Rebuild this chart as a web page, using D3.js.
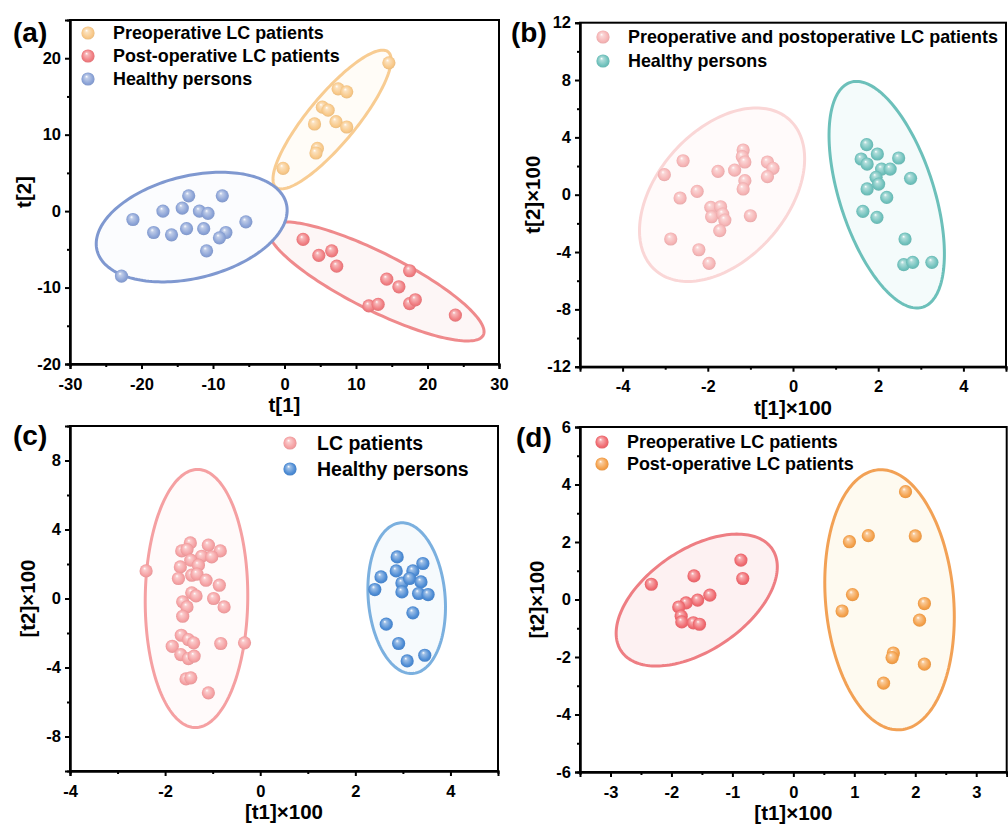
<!DOCTYPE html>
<html>
<head>
<meta charset="utf-8">
<script src="https://cdn.jsdelivr.net/npm/d3@7"></script>
<style>
	body { margin: 0; background: #fff; }
	svg { display: block; font-family: "Liberation Sans", Arial, sans-serif; }
	.tick text { font-weight: bold; }
</style>
</head>
<body>
<div id="chart"></div>
<script>
// ---- data ----
// (a)
const aPreop = [[14.6,19.4],[7.5,16.0],[8.7,15.6],[5.3,13.6],[6.1,13.2],[4.2,11.4],[7.2,11.7],[8.7,11.0],[4.6,8.2],[4.4,7.6],[-0.2,5.6]];
const aPostop = [[2.6,-3.7],[4.8,-5.8],[6.6,-5.2],[7.3,-7.2],[17.5,-7.8],[14.3,-8.9],[16.0,-9.9],[11.8,-12.4],[13.1,-12.2],[17.5,-12.1],[18.3,-11.6],[23.9,-13.6]];
const aHealthy = [[-13.4,2.0],[-8.7,2.0],[-21.2,-1.1],[-17.0,0.0],[-14.3,0.4],[-11.9,0.0],[-10.7,-0.3],[-18.3,-2.8],[-15.8,-3.1],[-13.7,-2.3],[-11.3,-2.3],[-8.2,-2.8],[-9.1,-3.5],[-10.9,-5.2],[-5.4,-1.4],[-22.8,-8.5]];
// ellipse = [cx, cy, ux, uy, vx, vy] (centre and two half-axis vectors, data units)
const aPreopEllipse = [6.65, 11.98, 7.84, 8.85, 2.6, -2.0];
const aPostopEllipse = [12.83, -9.2, 14.97, -7.03, -1.82, -3.35];
const aHealthyEllipse = [-12.98, -2.09, 13.24, 3.05, 1.72, -6.49];

// (b)
const bPatients = [[-3.02,1.40],[-2.58,2.37],[-2.65,-0.23],[-2.25,0.23],[-1.76,1.63],[-1.37,1.72],[-1.17,3.12],[-1.19,2.65],[-1.13,2.28],[-1.13,0.98],[-1.17,0.40],[-0.60,2.28],[-0.47,1.84],[-0.60,1.26],[-1.93,-0.88],[-1.70,-0.84],[-1.91,-1.54],[-1.65,-1.35],[-1.60,-1.77],[-1.72,-2.51],[-1.00,-1.47],[-2.87,-3.09],[-2.21,-3.84],[-1.97,-4.79]];
const bHealthy = [[1.73,3.49],[1.60,2.49],[1.74,2.14],[1.98,2.84],[2.48,2.56],[2.08,1.79],[2.28,1.79],[1.95,1.21],[2.76,1.14],[2.01,0.74],[1.74,0.40],[2.20,-0.19],[1.64,-1.16],[1.97,-1.58],[2.63,-3.09],[2.60,-4.88],[2.81,-4.72],[3.26,-4.72]];
const bPatientsEllipse = [-1.665, 0.0, 1.574, 5.25, 1.131, -3.01];
const bHealthyEllipse = [2.2, 0.0, 0.85, -7.84, -1.054, -1.01];

// (c)
const cPatients = [[-2.40,1.60],[-1.47,3.22],[-1.65,2.76],[-1.54,2.84],[-1.09,3.09],[-0.84,2.76],[-1.23,2.45],[-1.02,2.41],[-1.46,2.22],[-1.68,1.83],[-1.30,1.93],[-1.72,1.16],[-1.44,1.35],[-1.33,1.41],[-1.14,1.06],[-0.86,0.77],[-1.44,0.33],[-1.35,0.15],[-0.98,0.0],[-0.76,-0.49],[-1.63,-0.19],[-1.54,-0.49],[-1.63,-1.03],[-1.66,-2.13],[-1.51,-2.38],[-1.40,-2.57],[-1.85,-2.77],[-0.83,-2.61],[-0.33,-2.57],[-1.67,-3.25],[-1.51,-3.48],[-1.39,-3.34],[-1.56,-4.66],[-1.46,-4.60],[-1.09,-5.47]];
const cHealthy = [[2.88,2.41],[3.42,2.03],[2.54,1.25],[2.86,1.60],[3.21,1.60],[2.98,0.90],[3.14,1.16],[3.38,0.96],[2.41,0.52],[2.98,0.38],[3.33,0.29],[3.53,0.23],[3.21,-0.83],[2.65,-1.49],[2.91,-2.61],[3.46,-3.29],[3.09,-3.62]];
const cPatientsEllipse = [-1.34, 0.0, 0.024, 7.48, 1.078, 0];
const cHealthyEllipse = [3.08, 0.02, -0.097, 4.37, 0.81, 0];

// (d)
const dPreop = [[-2.33,0.53],[-1.63,0.82],[-0.86,1.37],[-0.83,0.73],[-1.37,0.15],[-1.57,-0.02],[-1.76,-0.12],[-1.88,-0.26],[-1.84,-0.58],[-1.83,-0.78],[-1.64,-0.81],[-1.54,-0.86]];
const dPostop = [[1.84,3.75],[1.23,2.22],[0.92,2.01],[2.00,2.21],[0.97,0.17],[2.15,-0.14],[0.80,-0.40],[2.07,-0.72],[1.64,-1.86],[1.62,-2.02],[2.15,-2.25],[1.48,-2.91]];
const dPreopEllipse = [-1.585, -0.02, 1.24, 1.77, 0.458, -1.46];
const dPostopEllipse = [1.578, -0.01, 0.186, -4.52, -1.046, -0.196];

// ticks
const aXTicks = [-30, -20, -10, 0, 10, 20, 30], aXMinor = [-25, -15, -5, 5, 15, 25];
const aYTicks = [-20, -10, 0, 10, 20], aYMinor = [-15, -5, 5, 15];
const bXTicks = [-4, -2, 0, 2, 4], bXMinor = [-3, -1, 1, 3];
const bYTicks = [-12, -8, -4, 0, 4, 8, 12], bYMinor = [-10, -6, -2, 2, 6, 10];
const cXTicks = [-4, -2, 0, 2, 4], cXMinor = [-3, -1, 1, 3];
const cYTicks = [-8, -4, 0, 4, 8], cYMinor = [-6, -2, 2, 6];
const dXTicks = [-3, -2, -1, 0, 1, 2, 3], dXMinor = [-2.5, -1.5, -0.5, 0.5, 1.5, 2.5];
const dYTicks = [-6, -4, -2, 0, 2, 4, 6], dYMinor = [-5, -3, -1, 1, 3, 5];

const W = 1008, H = 830;

const svg = d3.select("#chart")
	.append("svg")
	.attr("width", W)
	.attr("height", H);

const defs = svg.append("defs");
let gradId = 0;

// sphere-looking marker fill
function sphere(color) {
	const id = "g" + (gradId++);
	const g = defs.append("radialGradient")
		.attr("id", id)
		.attr("cx", "50%").attr("cy", "50%").attr("r", "55%")
		.attr("fx", "38%").attr("fy", "30%");
	g.append("stop").attr("offset", "0%").attr("stop-color", "#ffffff");
	g.append("stop").attr("offset", "22%").attr("stop-color", d3.interpolateRgb(color, "#fff")(0.45));
	g.append("stop").attr("offset", "75%").attr("stop-color", color);
	g.append("stop").attr("offset", "100%").attr("stop-color", d3.color(color).darker(0.25));
	return "url(#" + id + ")";
}

function drawPanel(p) {
	const x = d3.scaleLinear().domain(p.xDomain).range([p.left, p.right]);
	const y = d3.scaleLinear().domain(p.yDomain).range([p.bottom, p.top]);
	const g = svg.append("g");

	// ellipses
	const line = d3.line().curve(d3.curveLinearClosed);
	p.series.forEach(s => {
		const e = s.ellipse;
		const pts = d3.range(0, 2 * Math.PI, Math.PI / 90).map(t => [
			x(e[0] + e[2] * Math.cos(t) + e[4] * Math.sin(t)),
			y(e[1] + e[3] * Math.cos(t) + e[5] * Math.sin(t))
		]);
		g.append("path")
			.attr("d", line(pts))
			.attr("fill", s.ellipseFill)
			.attr("stroke", s.ellipseStroke)
			.attr("stroke-width", 3);
	});

	// points
	p.series.forEach(s => {
		const fill = sphere(s.color);
		g.append("g")
			.selectAll("circle")
			.data(s.data)
			.enter()
			.append("circle")
			.attr("cx", d => x(d[0]))
			.attr("cy", d => y(d[1]))
			.attr("r", 6.6)
			.attr("fill", fill);
		s.legendFill = fill;
	});

	// frame
	g.append("rect")
		.attr("x", p.left).attr("y", p.top)
		.attr("width", p.right - p.left).attr("height", p.bottom - p.top)
		.attr("fill", "none").attr("stroke", "#000").attr("stroke-width", 2);

	// axes
	const fmt = d => String(d);
	const xAx = g.append("g")
		.attr("transform", `translate(0, ${p.bottom})`)
		.call(d3.axisBottom(x).tickValues(p.xTicks).tickFormat(fmt).tickSize(5).tickPadding(9));
	const xMin = g.append("g")
		.attr("transform", `translate(0, ${p.bottom})`)
		.call(d3.axisBottom(x).tickValues(p.xMinor).tickFormat("").tickSize(3));
	const yAx = g.append("g")
		.attr("transform", `translate(${p.left}, 0)`)
		.call(d3.axisLeft(y).tickValues(p.yTicks).tickFormat(fmt).tickSize(5).tickPadding(4));
	const yMin = g.append("g")
		.attr("transform", `translate(${p.left}, 0)`)
		.call(d3.axisLeft(y).tickValues(p.yMinor).tickFormat("").tickSize(3));
	[xAx, xMin, yAx, yMin].forEach(a => {
		a.select(".domain").attr("stroke-width", 2);
		a.selectAll(".tick line").attr("stroke-width", 2);
		a.selectAll(".tick text").attr("font-size", 16.5).attr("fill", "#000");
	});

	// axis titles
	g.append("text")
		.text(p.xTitle)
		.attr("x", (p.left + p.right) / 2)
		.attr("y", p.bottom + 48)
		.attr("text-anchor", "middle")
		.attr("font-size", 20.5)
		.attr("font-weight", "bold");

	g.append("text")
		.text(p.yTitle)
		.attr("transform", `translate(${p.left - p.yTitleGap}, ${(p.top + p.bottom) / 2}) rotate(-90)`)
		.attr("text-anchor", "middle")
		.attr("dy", "0.35em")
		.attr("font-size", 20.5)
		.attr("font-weight", "bold");

	// panel tag
	g.append("text")
		.text(p.tag)
		.attr("x", p.tagX)
		.attr("y", p.tagY)
		.attr("font-size", 28)
		.attr("font-weight", "bold");

	// legend
	p.series.forEach((s, i) => {
		const ly = p.legend.y + i * p.legend.step;
		g.append("circle")
			.attr("cx", p.legend.x)
			.attr("cy", ly)
			.attr("r", 6.6)
			.attr("fill", s.legendFill);
		g.append("text")
			.text(s.name)
			.attr("x", p.legend.x + p.legend.gap)
			.attr("y", ly)
			.attr("dy", "0.36em")
			.attr("font-size", p.legend.size)
			.attr("font-weight", "bold");
	});
}

drawPanel({
	tag: "(a)", tagX: 13, tagY: 42,
	left: 70, right: 499, top: 20, bottom: 364,
	xDomain: [-30, 30], yDomain: [-20, 25],
	xTicks: aXTicks, xMinor: aXMinor, yTicks: aYTicks, yMinor: aYMinor,
	xTitle: "t[1]", yTitle: "t[2]", yTitleGap: 46,
	legend: { x: 88, y: 33, step: 23, gap: 25, size: 17.9 },
	series: [
		{ name: "Preoperative LC patients", data: aPreop, ellipse: aPreopEllipse, color: "#F8C888", ellipseStroke: "#F8CC92", ellipseFill: "#fffcf7" },
		{ name: "Post-operative LC patients", data: aPostop, ellipse: aPostopEllipse, color: "#F07C80", ellipseStroke: "#EF8A8C", ellipseFill: "#fdf6f6" },
		{ name: "Healthy persons", data: aHealthy, ellipse: aHealthyEllipse, color: "#8AA2D6", ellipseStroke: "#7F98D0", ellipseFill: "#fbfcfe" }
	]
});

drawPanel({
	tag: "(b)", tagX: 511, tagY: 42,
	left: 580, right: 1006, top: 22.7, bottom: 366.7,
	xDomain: [-5, 5], yDomain: [-12, 12],
	xTicks: bXTicks, xMinor: bXMinor, yTicks: bYTicks, yMinor: bYMinor,
	xTitle: "t[1]×100", yTitle: "t[2]×100", yTitleGap: 47,
	legend: { x: 603, y: 37, step: 24, gap: 25, size: 17.9 },
	series: [
		{ name: "Preoperative and postoperative LC patients", data: bPatients, ellipse: bPatientsEllipse, color: "#F6B4B5", ellipseStroke: "#FAD6D6", ellipseFill: "#fffafa" },
		{ name: "Healthy persons", data: bHealthy, ellipse: bHealthyEllipse, color: "#6FC1BC", ellipseStroke: "#6CC0BA", ellipseFill: "#f4fbfb" }
	]
});

drawPanel({
	tag: "(c)", tagX: 13, tagY: 445,
	left: 70, right: 498, top: 426, bottom: 771,
	xDomain: [-4, 5], yDomain: [-10, 10],
	xTicks: cXTicks, xMinor: cXMinor, yTicks: cYTicks, yMinor: cYMinor,
	xTitle: "[t1]×100", yTitle: "[t2]×100", yTitleGap: 42,
	legend: { x: 290, y: 443, step: 26, gap: 27, size: 19.5 },
	series: [
		{ name: "LC patients", data: cPatients, ellipse: cPatientsEllipse, color: "#F5A0A2", ellipseStroke: "#F5A0A2", ellipseFill: "#fffafa" },
		{ name: "Healthy persons", data: cHealthy, ellipse: cHealthyEllipse, color: "#4C8BD4", ellipseStroke: "#7BB0DF", ellipseFill: "#f6fafd" }
	]
});

drawPanel({
	tag: "(d)", tagX: 516, tagY: 447,
	left: 580, right: 1006.7, top: 427, bottom: 772,
	xDomain: [-3.5, 3.5], yDomain: [-6, 6],
	xTicks: dXTicks, xMinor: dXMinor, yTicks: dYTicks, yMinor: dYMinor,
	xTitle: "[t1]×100", yTitle: "[t2]×100", yTitleGap: 43,
	legend: { x: 602, y: 442, step: 22, gap: 25, size: 17.9 },
	series: [
		{ name: "Preoperative LC patients", data: dPreop, ellipse: dPreopEllipse, color: "#F06A70", ellipseStroke: "#EE7E83", ellipseFill: "#fdf1f2" },
		{ name: "Post-operative LC patients", data: dPostop, ellipse: dPostopEllipse, color: "#F4A04A", ellipseStroke: "#F2A155", ellipseFill: "#fefaf0" }
	]
});
</script>
</body>
</html>
